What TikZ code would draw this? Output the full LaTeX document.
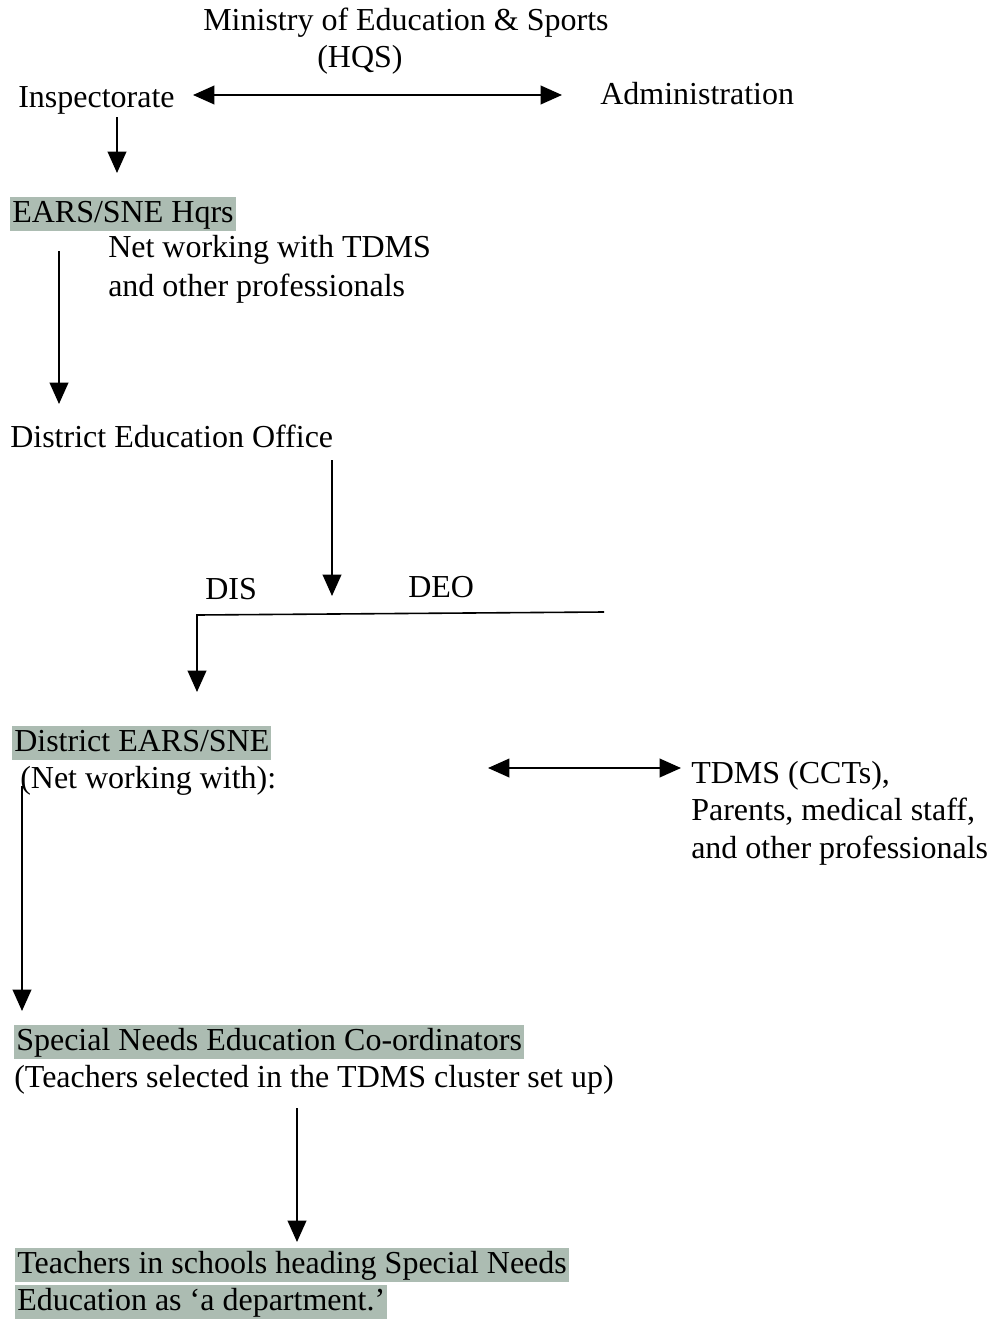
\documentclass[tikz,border=0pt]{standalone}
\usepackage{fontspec}
\setmainfont{Liberation Serif}
\usetikzlibrary{arrows.meta}
\definecolor{shade}{RGB}{172,188,178}
\tikzset{
  lbl/.style={anchor=base west, inner sep=0pt, font=\fontsize{24}{29}\selectfont},
  hl/.style={lbl, fill=shade, inner xsep=1.5pt, inner ysep=0pt, text height=19pt, text depth=7pt},
  conn/.style={line width=1.2pt, -{Triangle[length=16pt,width=14pt]}},
  biconn/.style={line width=1.2pt, {Triangle[length=16pt,width=14pt]}-{Triangle[length=16pt,width=14pt]}},
  plain/.style={line width=1.2pt}
}
\begin{document}
\begin{tikzpicture}[x=0.75pt,y=-0.75pt]
\useasboundingbox (0,0) rectangle (992,1320);
% texts
\node[lbl] (mes) at (203,31) {Ministry of Education \& Sports};
\node[lbl] (hqs) at (317,68) {(HQS)};
\node[lbl] (insp) at (18,108) {Inspectorate};
\node[lbl] (admin) at (600,104) {Administration};
\node[hl] (ears) at (10,222) {EARS/SNE Hqrs};
\node[lbl] (net1) at (108,257) {Net working with TDMS};
\node[lbl] (net2) at (108,296) {and other professionals};
\node[lbl] (deo) at (10,447) {District Education Office};
\node[lbl] (dis) at (205,599) {DIS};
\node[lbl] (deol) at (408,597) {DEO};
\node[hl] (dears) at (12,751) {District EARS/SNE};
\node[lbl] (netw) at (20,788) {(Net working with):};
\node[lbl] (tdms1) at (691,783) {TDMS (CCTs),};
\node[lbl] (tdms2) at (691,820) {Parents, medical staff,};
\node[lbl] (tdms3) at (691,858) {and other professionals};
\node[hl] (snec) at (14,1050) {Special Needs Education Co-ordinators};
\node[lbl] (tsel) at (14,1087) {(Teachers selected in the TDMS cluster set up)};
\node[hl] (tsch1) at (15,1273) {Teachers in schools heading Special Needs};
\node[hl] (tsch2) at (15,1310) {Education as `a department.'};
% connector points
\coordinate (a1s) at (193,95);
\coordinate (a1e) at (562,95);
\coordinate (a2s) at (117,117);
\coordinate (a2e) at (117,173);
\coordinate (a3s) at (59,251);
\coordinate (a3e) at (59,404);
\coordinate (a4s) at (332,460);
\coordinate (a4e) at (332,596);
\coordinate (b1) at (604,612);
\coordinate (b2) at (197,615);
\coordinate (b3) at (197,692);
\coordinate (c1s) at (488,768);
\coordinate (c1e) at (681,768);
\coordinate (d1s) at (22,786);
\coordinate (d1e) at (22,1011);
\coordinate (e1s) at (297,1108);
\coordinate (e1e) at (297,1242);
% connectors
\draw[biconn] (a1s) -- (a1e);
\draw[conn] (a2s) -- (a2e);
\draw[conn] (a3s) -- (a3e);
\draw[conn] (a4s) -- (a4e);
\draw[conn] (b1) -- (b2) -- (b3);
\draw[biconn] (c1s) -- (c1e);
\draw[conn] (d1s) -- (d1e);
\draw[conn] (e1s) -- (e1e);
\end{tikzpicture}
\end{document}
